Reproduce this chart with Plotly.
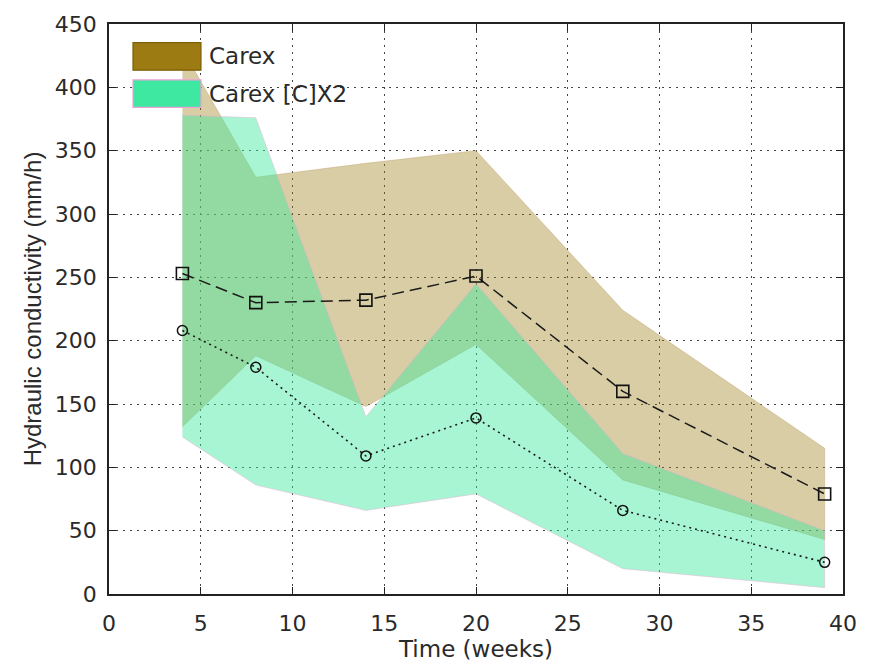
import plotly.graph_objects as go

# ---- data ----
weeks = [4, 8, 14, 20, 28, 39]

carex_mean = [253, 230, 232, 251, 160, 79]
carex_upper = [430, 329, 340, 350, 224, 115]
carex_lower = [132, 188, 148, 197, 90, 43]

cx2_mean = [208, 179, 109, 139, 66, 25]
cx2_upper = [378, 376, 140, 245, 111, 50]
cx2_lower = [124, 86, 66, 79, 20, 5]

series_names = ["Carex", "Carex [C]X2"]
x_ticks = [0, 5, 10, 15, 20, 25, 30, 35, 40]
y_ticks = [0, 50, 100, 150, 200, 250, 300, 350, 400, 450]

# ---- styles ----
olive = "rgb(155,123,18)"
mint = "rgb(62,232,160)"
olive_fill = "rgba(155,123,18,0.38)"
mint_fill = "rgba(62,232,160,0.45)"
text_col = "#2a2a2a"

fig = go.Figure()

fig.add_trace(go.Scatter(
    x=weeks + weeks[::-1], y=carex_upper + carex_lower[::-1],
    fill="toself", fillcolor=olive_fill, mode="lines",
    line=dict(color="rgba(190,160,110,0.55)", width=0.8),
    name=series_names[0], showlegend=False, hoverinfo="skip"))

fig.add_trace(go.Scatter(
    x=weeks + weeks[::-1], y=cx2_upper + cx2_lower[::-1],
    fill="toself", fillcolor=mint_fill, mode="lines",
    line=dict(color="rgba(235,170,210,0.55)", width=0.8),
    name=series_names[1], showlegend=False, hoverinfo="skip"))

fig.add_trace(go.Scatter(
    x=weeks, y=carex_mean, mode="lines+markers",
    line=dict(color="#1a1a1a", width=1.5, dash="12px,6px"),
    marker=dict(symbol="square-open", size=12, color="#111",
                line=dict(width=1.6, color="#111")),
    showlegend=False))

fig.add_trace(go.Scatter(
    x=weeks, y=cx2_mean, mode="lines+markers",
    line=dict(color="#1a1a1a", width=1.6, dash="2px,4px"),
    marker=dict(symbol="circle-open", size=10, color="#111",
                line=dict(width=1.5, color="#111")),
    showlegend=False))

# ---- legend drawn as patches + labels ----
legend_rows = [(series_names[0], olive, "rgb(125,95,5)", 0.9673, 0.919),
               (series_names[1], mint, "rgb(235,160,215)", 0.9019, 0.8537)]
for name, col, edge, y1, y0 in legend_rows:
    fig.add_shape(type="rect", xref="paper", yref="paper",
                  x0=0.0327, x1=0.1253, y0=y0, y1=y1,
                  fillcolor=col, line=dict(color=edge, width=1.2), layer="above")
    fig.add_annotation(xref="paper", yref="paper", x=0.134, y=(y0 + y1) / 2,
                       text=name, showarrow=False, xanchor="left", yanchor="middle",
                       font=dict(family="DejaVu Sans", size=23, color=text_col))

axis_common = dict(
    showline=True, linecolor="#222", linewidth=1.5, mirror="ticks",
    ticks="inside", ticklen=7, tickwidth=1.2, tickcolor="#222",
    showgrid=True, gridcolor="#444", gridwidth=1, griddash="2px,5px",
    zeroline=False,
    tickfont=dict(family="DejaVu Sans", size=22, color=text_col),
)

fig.update_xaxes(range=[0, 40], tickvals=x_ticks, ticklabelstandoff=9,
                 title=dict(text="Time (weeks)", standoff=4,
                            font=dict(family="DejaVu Sans", size=23, color=text_col)),
                 **axis_common)
fig.update_yaxes(range=[0, 450], tickvals=y_ticks, ticklabelstandoff=6,
                 title=dict(text="Hydraulic conductivity (mm/h)", standoff=6,
                            font=dict(family="Liberation Sans", size=24, color=text_col)),
                 **axis_common)

fig.update_layout(
    width=872, height=668,
    margin=dict(l=109, r=29, t=17, b=70),
    plot_bgcolor="white", paper_bgcolor="white",
    showlegend=False,
)

fig.write_html("out.html")
